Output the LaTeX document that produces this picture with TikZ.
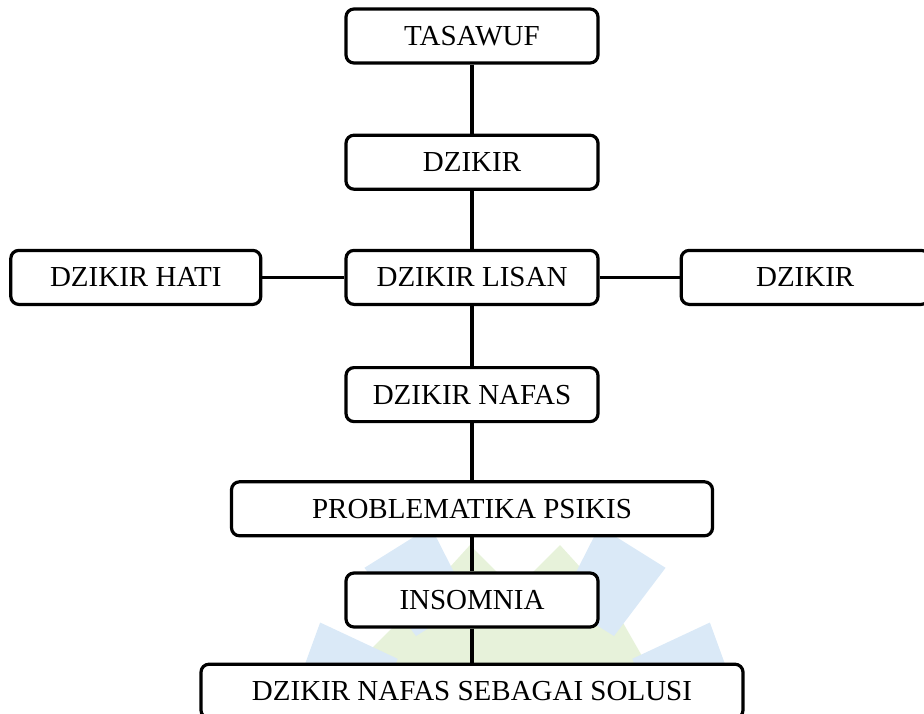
\documentclass[tikz,border=0pt]{standalone}
\usepackage{fontspec}
\setmainfont{Liberation Serif}
\usetikzlibrary{positioning}
\definecolor{wmblue}{RGB}{218,233,247}
\definecolor{wmgreen}{RGB}{231,242,218}

\begin{document}
\begin{tikzpicture}[x=0.5pt,y=-0.5pt,
  box/.style={draw,line width=1.6pt,rounded corners=4pt,fill=white,minimum width=#1,minimum height=27pt,
    inner sep=2pt,font=\fontsize{14.5}{17}\selectfont},
  box/.default=126pt,
  link/.style={line width=1.9pt}]
\useasboundingbox (0,0) rectangle (924,713);
% faint logo behind the lower boxes
\fill[wmgreen] (350,670) -- (420,600) -- (470,545) -- (515,590) -- (560,545) -- (610,600) -- (650,670) -- cycle;
\begin{scope}[shift={(515,735)}]
\foreach \a in {-160,-122,-58,-20,20,160}
  \fill[wmblue] (\a-13:140) -- (\a+13:140) -- (\a+10:225) -- (\a-10:225) -- cycle;
\end{scope}
\node[box] (tas) at (472,36) {TASAWUF};
\node[box,below=34.5pt of tas] (dz) {DZIKIR};
\node[box,below=29pt of dz] (lisan) {DZIKIR LISAN};
\node[box=125pt,left=41pt of lisan] (hati) {DZIKIR HATI};
\node[box=124pt,right=40pt of lisan] (dzr) {DZIKIR};
\node[box,below=30pt of lisan] (nafas) {DZIKIR NAFAS};
\node[box=240.5pt,below=28.5pt of nafas] (prob) {PROBLEMATIKA PSIKIS};
\node[box,below=17pt of prob] (ins) {INSOMNIA};
\node[box=271pt,below=17pt of ins] (sol) {DZIKIR NAFAS SEBAGAI SOLUSI};
\draw[link] (tas) -- (dz); \draw[link] (dz) -- (lisan);
\draw[link] (hati) -- (lisan); \draw[link] (lisan) -- (dzr);
\draw[link] (lisan) -- (nafas); \draw[link] (nafas) -- (prob);
\draw[link] (prob) -- (ins); \draw[link] (ins) -- (sol);
\end{tikzpicture}
\end{document}
